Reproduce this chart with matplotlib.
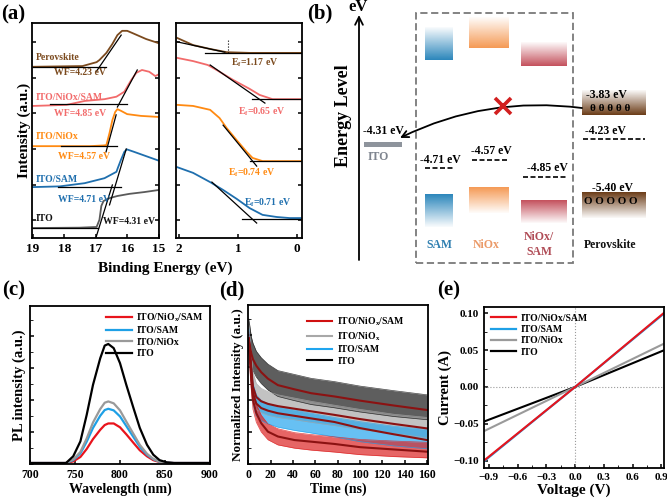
import numpy as np
import matplotlib
matplotlib.use('Agg')
import matplotlib.pyplot as plt
from matplotlib.colors import to_rgb
from matplotlib.patches import Rectangle, FancyArrowPatch
from matplotlib.ticker import MultipleLocator

W, H = 667, 498

# ---------------- (a) UPS cut-off region (binding energy in eV, intensity a.u.)
cut_names = ['ITO', 'ITO/SAM', 'ITO/NiOx', 'ITO/NiOx/SAM', 'Perovskite']
cut_colors = ['#5a5a5a', '#1f6fae', '#ff8a12', '#f26b6b', '#7b4a1e']
name_colors = ['#111111', '#1f6fae', '#ff8a12', '#f26b6b', '#7b4a1e']
work_function = [4.31, 4.71, 4.57, 4.85, 4.23]

ito_cut_e = [19.0, 17.52, 16.98, 16.89, 16.83, 16.76, 16.57, 16.32, 15.94, 15.47, 15.0]
ito_cut_i = [0.28, 0.29, 0.31, 0.51, 0.90, 1.04, 1.12, 1.18, 1.24, 1.29, 1.35]
sam_cut_e = [19.0, 18.15, 17.36, 16.73, 16.35, 16.31, 16.21, 16.10, 16.02, 15.79, 15.0]
sam_cut_i = [1.43, 1.45, 1.54, 1.68, 1.86, 1.96, 2.19, 2.42, 2.49, 2.42, 2.17]
niox_cut_e = [19.0, 17.20, 16.76, 16.67, 16.57, 16.48, 16.39, 16.32, 16.20, 16.01, 15.57, 15.0]
niox_cut_i = [2.58, 2.58, 2.60, 2.61, 2.95, 3.31, 3.54, 3.62, 3.57, 3.48, 3.43, 3.40]
nsam_cut_e = [19.0, 17.93, 17.36, 16.73, 16.35, 16.10, 15.88, 15.72, 15.54, 15.31, 15.12, 15.0]
nsam_cut_i = [3.71, 3.74, 3.85, 3.90, 3.97, 4.11, 4.44, 4.64, 4.72, 4.67, 4.55, 4.60]
pvk_cut_e = [19.0, 17.43, 16.98, 16.89, 16.67, 16.48, 16.32, 16.17, 16.01, 15.85, 15.41, 15.0]
pvk_cut_i = [4.81, 4.83, 4.94, 5.00, 5.20, 5.45, 5.70, 5.82, 5.82, 5.76, 5.59, 5.47]

# baselines and tangent lines used to read the WF
wf_base_from = [19.0, 18.2, 18.1, 18.46, 19.0]
wf_base_to = [16.95, 16.2, 16.32, 16.01, 16.67]
wf_base_level = [0.28, 1.44, 2.58, 3.76, 4.81]
wf_tan_e0 = [16.99, 16.57, 16.68, 16.32, 16.98]
wf_tan_i0 = [0.04, 0.93, 2.42, 3.68, 4.69]
wf_tan_e1 = [16.48, 16.04, 16.36, 15.69, 16.20]
wf_tan_i1 = [1.49, 2.50, 3.46, 4.72, 5.70]
name_pos_i = [0.56, 1.63, 2.84, 3.96, 5.08]
wf_pos_e = [15.94, 17.39, 17.39, 17.49, 17.52]
wf_pos_i = [0.45, 1.07, 2.30, 3.51, 4.66]

# ---------------- (a) valence band edge (perovskite, NiOx/SAM, NiOx, SAM)
vb_names = ['Perovskite', 'ITO/NiOx/SAM', 'ITO/NiOx', 'ITO/SAM']
vb_colors = ['#7b4a1e', '#f26b6b', '#ff8a12', '#1f6fae']
fermi_edge = [1.17, 0.65, 0.74, 0.71]
pvk_vb_e = [2.03, 1.76, 1.47, 1.19, 0.80, 0.12, -0.09]
pvk_vb_i = [5.62, 5.42, 5.31, 5.22, 5.20, 5.20, 5.20]
nsam_vb_e = [2.03, 1.76, 1.51, 1.36, 1.08, 0.80, 0.63, 0.41, 0.12, -0.09]
nsam_vb_i = [5.06, 4.97, 4.86, 4.72, 4.44, 4.19, 4.02, 3.90, 3.90, 3.90]
niox_vb_e = [2.03, 1.76, 1.47, 1.31, 1.19, 1.02, 0.85, 0.75, 0.58, 0.12, -0.09]
niox_vb_i = [3.74, 3.71, 3.60, 3.37, 3.09, 2.75, 2.42, 2.25, 2.16, 2.16, 2.16]
sam_vb_e = [2.03, 1.76, 1.47, 1.25, 1.02, 0.80, 0.58, 0.34, 0.12, -0.09]
sam_vb_i = [1.99, 1.83, 1.57, 1.35, 1.10, 0.84, 0.65, 0.59, 0.56, 0.56]
ef_tan_e0 = [2.03, 1.47, 1.25, 1.44]
ef_tan_i0 = [5.51, 4.86, 3.17, 1.57]
ef_tan_e1 = [1.22, 0.54, 0.68, 0.68]
ef_tan_i1 = [5.22, 3.79, 2.02, 0.42]
ef_base_from = [1.56, 0.76, 0.80, 0.93]
ef_base_level = [5.20, 3.90, 2.16, 0.53]
ef_pos_e = [0.71, 0.59, 0.76, 0.49]
ef_pos_i = [4.92, 3.54, 1.83, 0.98]

# ---------------- (b) energy levels (eV)
ito_level = -4.31
layer_names = ['SAM', 'NiOx', 'NiOx/\nSAM', 'Perovskite']
layer_wf = [-4.71, -4.57, -4.85, -4.23]
pvk_cbm, pvk_vbm = -3.83, -5.40
layer_colors = ['#2b86bb', '#f59a55', '#c4505c', '#6b3c17']
layer_text_colors = ['#2f7fb0', '#eb9a68', '#b04c56', '#111111']

# ---------------- (c) steady-state PL
pl_wl = [700, 740, 748, 756, 763, 770, 778, 783, 787, 793, 800, 807, 815, 822, 830, 837, 844, 852, 860, 900]
pl_ito = [0.03, 0.03, 0.24, 0.71, 1.54, 2.48, 3.31, 3.71, 3.76, 3.63, 3.16, 2.48, 1.75, 1.13, 0.60, 0.29, 0.12, 0.05, 0.03, 0.03]
pl_niox = [0.03, 0.03, 0.14, 0.38, 0.80, 1.30, 1.72, 1.92, 1.96, 1.90, 1.68, 1.33, 0.94, 0.60, 0.32, 0.16, 0.07, 0.04, 0.03, 0.03]
pl_sam = [0.03, 0.03, 0.12, 0.33, 0.70, 1.13, 1.51, 1.69, 1.73, 1.68, 1.49, 1.19, 0.84, 0.54, 0.29, 0.15, 0.07, 0.04, 0.03, 0.03]
pl_nsam = [0.03, 0.03, 0.08, 0.22, 0.47, 0.78, 1.07, 1.22, 1.27, 1.27, 1.15, 0.93, 0.66, 0.43, 0.24, 0.12, 0.06, 0.04, 0.03, 0.03]

# ---------------- (d) TRPL (band = spread of the raw counts, line = fit)
trpl_t = [0.5, 2.7, 4.2, 7.2, 11.6, 17.6, 26.5, 41.4, 56.3, 77, 100, 130, 160]
fit_ito = [3.85, 3.43, 3.25, 3.05, 2.85, 2.65, 2.45, 2.32, 2.20, 2.10, 1.97, 1.82, 1.68]
fit_niox = [3.9, 3.0, 2.4, 2.08, 1.95, 1.87, 1.80, 1.72, 1.64, 1.53, 1.40, 1.25, 1.11]
fit_sam = [3.9, 2.85, 2.2, 1.88, 1.74, 1.66, 1.58, 1.50, 1.42, 1.31, 1.12, 0.93, 0.75]
fit_nsam = [3.85, 2.6, 1.99, 1.58, 1.27, 1.01, 0.86, 0.75, 0.70, 0.63, 0.53, 0.46, 0.39]
raw_ito_hi = [4.5, 3.95, 3.75, 3.5, 3.3, 3.1, 2.9, 2.78, 2.66, 2.56, 2.42, 2.28, 2.15]
raw_ito_lo = [3.6, 3.05, 2.9, 2.7, 2.5, 2.3, 2.1, 1.97, 1.85, 1.75, 1.62, 1.48, 1.38]
raw_niox_hi = [4.3, 3.4, 2.85, 2.5, 2.35, 2.25, 2.15, 2.05, 1.95, 1.83, 1.70, 1.55, 1.45]
raw_niox_lo = [3.5, 2.6, 2.0, 1.7, 1.6, 1.52, 1.45, 1.38, 1.30, 1.20, 1.08, 0.95, 0.82]
raw_sam_hi = [4.2, 3.2, 2.5, 2.15, 1.98, 1.88, 1.78, 1.68, 1.58, 1.45, 1.32, 1.18, 1.08]
raw_sam_lo = [3.6, 2.5, 1.85, 1.5, 1.35, 1.25, 1.15, 1.05, 0.97, 0.85, 0.70, 0.57, 0.48]
raw_nsam_hi = [4.1, 2.9, 2.3, 1.85, 1.52, 1.25, 1.10, 0.98, 0.92, 0.85, 0.77, 0.72, 0.68]
raw_nsam_lo = [3.6, 2.3, 1.7, 1.3, 1.0, 0.76, 0.60, 0.50, 0.44, 0.38, 0.30, 0.24, 0.20]

# ---------------- (e) I-V
iv_v = [-0.95, 0.0, 0.93]
iv_nsam = [-0.100, 0.0, 0.101]
iv_sam = [-0.101, 0.0, 0.100]
iv_niox = [-0.060, 0.0, 0.059]
iv_ito = [-0.047, 0.0, 0.050]

plt.rcParams['font.family'] = ['Liberation Serif', 'DejaVu Serif']
plt.rcParams['font.weight'] = 'bold'
plt.rcParams['axes.labelweight'] = 'bold'
plt.rcParams['axes.linewidth'] = 1.3
plt.rcParams['xtick.direction'] = 'in'
plt.rcParams['ytick.direction'] = 'in'
plt.rcParams['xtick.major.width'] = 1.1
plt.rcParams['ytick.major.width'] = 1.1
plt.rcParams['mathtext.fontset'] = 'custom'
plt.rcParams['mathtext.rm'] = 'Liberation Serif:bold'
plt.rcParams['mathtext.it'] = 'Liberation Serif:italic:bold'
plt.rcParams['mathtext.bf'] = 'Liberation Serif:bold'


def px_box(x0, y0, x1, y1):
    # pixel box (top-left origin) -> figure fraction
    return [x0 / W, 1 - y1 / H, (x1 - x0) / W, (y1 - y0) / H]


fig = plt.figure(figsize=(W / 100, H / 100), dpi=100)

# ======================= (b) schematic, drawn first (underneath)
axb = fig.add_axes(px_box(280, 0, 667, 275))
axb.set_xlim(280, 667)
axb.set_ylim(-6.458, -1.949)


def grad_box(ax, x0, x1, y0, y1, color, color_at_bottom=True):
    rgb = to_rgb(color)
    img = np.zeros((64, 1, 4))
    img[..., :3] = rgb
    ramp = np.linspace(1.0, 0.03, 64)
    img[:, 0, 3] = ramp if color_at_bottom else ramp[::-1]
    ax.imshow(img, extent=[x0, x1, y0, y1], origin='lower', aspect='auto',
              interpolation='bilinear', zorder=2)


col_x0 = [425, 469, 521, 582]
col_x1 = [453, 509, 567, 646]
cb_top = [-2.392, -2.228, -2.638, -3.425]
cb_bot = [-2.933, -2.736, -3.031, pvk_cbm]
vb_top = [-5.146, -5.031, -5.228, -5.113]
vb_bot = [-5.671, -5.441, -5.605, -5.523]
for i in range(4):
    grad_box(axb, col_x0[i], col_x1[i], cb_bot[i], cb_top[i], layer_colors[i], True)
    grad_box(axb, col_x0[i], col_x1[i], vb_bot[i], vb_top[i], layer_colors[i], False)

dash_x0 = [425, 472, 523, 583]
dash_x1 = [453, 507, 567, 645]
text_x = [440, 491, 547, 605]
for i in range(4):
    axb.plot([dash_x0[i], dash_x1[i]], [layer_wf[i]] * 2, ls=(0, (3, 1.5)), color='k', lw=1.2)
    axb.text(text_x[i], layer_wf[i] + 0.04, '%.2f eV' % layer_wf[i], ha='center', va='bottom', fontsize=8.5)
    axb.text([439, 486, 539, 610][i], -5.96, layer_names[i], ha='center', va='center',
             fontsize=8.5, color=layer_text_colors[i], linespacing=1.3)

axb.add_patch(Rectangle((364, ito_level - 0.05), 38, 0.09, color='#8e949c', lw=0))
axb.text(383, ito_level + 0.11, '%.2f eV' % ito_level, ha='center', va='bottom', fontsize=8.5)
axb.text(378, ito_level - 0.21, 'ITO', ha='center', va='center', fontsize=8.5, color='#7f858f')
axb.text(606, -3.50, '%.2f eV' % pvk_cbm, ha='center', va='center', fontsize=8.5)
axb.text(610, -3.72, 'θ θ θ θ θ', ha='center', va='center', fontsize=8)
axb.text(612, -5.03, '%.2f eV' % pvk_vbm, ha='center', va='center', fontsize=8.5)
axb.text(611, -5.26, 'O O O O O', ha='center', va='center', fontsize=8)

axb.add_patch(Rectangle((416, -6.261), 157, 4.099, fill=False, ls=(0, (4, 2)),
                        lw=1.3, edgecolor='#7a7a7a', zorder=1))
axb.annotate('', xy=(359, -2.195), xytext=(359, -6.212),
             arrowprops=dict(arrowstyle='->', lw=1.3, color='k', mutation_scale=14,
                             shrinkA=0, shrinkB=0))
axb.text(358, -2.06, 'eV', ha='center', va='center', fontsize=12)
axb.text(343, -3.84, 'Energy Level', rotation=90, ha='center', va='center', fontsize=13)
axb.add_patch(FancyArrowPatch((582, -3.72), (400, -4.21), connectionstyle='arc3,rad=0.15',
                              arrowstyle='->', mutation_scale=12, lw=1.3, color='k',
                              shrinkA=0, shrinkB=0, zorder=4))
axb.plot(503, -3.69, marker='x', ms=12, mew=2.6, color='#d21f1f', zorder=5)
axb.set_axis_off()

# ======================= (a) left: secondary electron cut-off
ax1 = fig.add_axes(px_box(32, 23, 159, 238))
cut_e = [ito_cut_e, sam_cut_e, niox_cut_e, nsam_cut_e, pvk_cut_e]
cut_i = [ito_cut_i, sam_cut_i, niox_cut_i, nsam_cut_i, pvk_cut_i]
for k in range(5):
    ax1.plot(cut_e[k], cut_i[k], color=cut_colors[k], lw=1.3)
    ax1.plot([wf_base_from[k], wf_base_to[k]], [wf_base_level[k]] * 2, color='k', lw=0.9)
    ax1.plot([wf_tan_e0[k], wf_tan_e1[k]], [wf_tan_i0[k], wf_tan_i1[k]], color='k', lw=0.9)
    ax1.text(18.92, name_pos_i[k], cut_names[k], color=name_colors[k], fontsize=7,
             ha='left', va='center')
    ax1.text(wf_pos_e[k], wf_pos_i[k], 'WF=%.2f eV' % work_function[k], color=name_colors[k],
             fontsize=7, ha='center', va='center')
ax1.set_xlim(19.03, 15.0)
ax1.set_ylim(0, 6.04)
ax1.xaxis.set_major_locator(MultipleLocator(1))
ax1.set_yticks([0.5, 1.5, 2.5, 3.5, 4.5, 5.5])
ax1.tick_params(axis='y', labelleft=False, right=True, length=3)
ax1.tick_params(axis='x', labelsize=9.5, length=3)
ax1.set_ylabel('Intensity (a.u.)', fontsize=11, labelpad=1)

# ======================= (a) right: valence band edge
ax2 = fig.add_axes(px_box(176, 23, 302, 238))
vb_e = [pvk_vb_e, nsam_vb_e, niox_vb_e, sam_vb_e]
vb_i = [pvk_vb_i, nsam_vb_i, niox_vb_i, sam_vb_i]
for k in range(4):
    ax2.plot(vb_e[k], vb_i[k], color=vb_colors[k], lw=1.3)
    ax2.plot([ef_tan_e0[k], ef_tan_e1[k]], [ef_tan_i0[k], ef_tan_i1[k]], color='k', lw=0.9)
    ax2.plot([ef_base_from[k], -0.09], [ef_base_level[k]] * 2, color='k', lw=0.9)
    ax2.text(ef_pos_e[k], ef_pos_i[k], r'E$_\mathrm{f}$=%.2f eV' % fermi_edge[k],
             color=vb_colors[k], fontsize=7, ha='center', va='center')
ax2.plot([fermi_edge[0]] * 2, [pvk_vb_i[-1], 5.56], color='k', lw=0.8, ls=':')
ax2.set_xlim(2.05, -0.09)
ax2.set_ylim(0, 6.04)
ax2.set_xticks([2, 1, 0])
ax2.set_yticks([0.5, 1.5, 2.5, 3.5, 4.5, 5.5])
ax2.tick_params(axis='y', labelleft=False, right=True, length=3)
ax2.tick_params(axis='x', labelsize=9.5, length=3)
fig.text(165 / W, 1 - 268 / H, 'Binding Energy (eV)', ha='center', va='center', fontsize=11)

# ======================= (c) PL
axc = fig.add_axes(px_box(30, 305.7, 210, 464.3))
axc.plot(pl_wl, pl_nsam, color='#e8141c', lw=1.6, label='ITO/NiO$_\\mathrm{x}$/SAM')
axc.plot(pl_wl, pl_sam, color='#1ea0e6', lw=1.6, label='ITO/SAM')
axc.plot(pl_wl, pl_niox, color='#9a9a9a', lw=1.6, label='ITO/NiOx')
axc.plot(pl_wl, pl_ito, color='k', lw=1.6, label='ITO')
axc.set_xlim(700, 900)
axc.set_ylim(-0.01, 4.96)
axc.xaxis.set_major_locator(MultipleLocator(50))
axc.yaxis.set_major_locator(MultipleLocator(1))
axc.yaxis.set_minor_locator(MultipleLocator(0.5))
axc.set_yticks([1, 2, 3, 4])
axc.tick_params(axis='y', which='both', labelleft=False, length=3)
axc.tick_params(axis='y', which='minor', length=2)
axc.tick_params(axis='x', labelsize=8.5, length=3)
axc.set_xlabel('Wavelength (nm)', fontsize=10, labelpad=1)
axc.set_ylabel('PL intensity (a.u.)', fontsize=10.5, labelpad=3)
axc.legend(loc='upper right', frameon=False, fontsize=7, handlelength=2.6,
           labelspacing=0.25, borderaxespad=0.2, handletextpad=0.5)

# ======================= (d) TRPL
axd = fig.add_axes(px_box(247.7, 305.0, 428.3, 464.3))
bands = [(raw_ito_lo, raw_ito_hi, '#1a1a1a', 0.7), (raw_niox_lo, raw_niox_hi, '#a8a8a8', 0.7),
         (raw_sam_lo, raw_sam_hi, '#27a6ee', 0.7), (raw_nsam_lo, raw_nsam_hi, '#dc2424', 0.7)]
for lo, hi, c, a in bands:
    axd.fill_between(trpl_t, lo, hi, color=c, alpha=a, lw=0)
    axd.plot(trpl_t, lo, color=c, lw=0.5, alpha=0.8)
    axd.plot(trpl_t, hi, color=c, lw=0.5, alpha=0.8)
for fit in [fit_ito, fit_niox, fit_sam, fit_nsam]:
    axd.plot(trpl_t, fit, color='#8b1212', lw=1.5)
for lab, c in [('ITO/NiO$_\\mathrm{x}$/SAM', '#d01010'), ('ITO/NiO$_\\mathrm{x}$', '#a8a8a8'),
               ('ITO/SAM', '#1fa5ef'), ('ITO', 'k')]:
    axd.plot([], [], color=c, lw=1.5, label=lab)
axd.set_xlim(-0.5, 161)
axd.set_ylim(0, 4.93)
axd.xaxis.set_major_locator(MultipleLocator(20))
axd.set_yticks([1, 2, 3, 4])
axd.yaxis.set_minor_locator(MultipleLocator(0.5))
axd.tick_params(axis='y', which='both', labelleft=False, length=3)
axd.tick_params(axis='y', which='minor', length=2)
axd.tick_params(axis='x', labelsize=8.5, length=3)
axd.set_xlabel('Time (ns)', fontsize=10, labelpad=1)
axd.set_ylabel('Normalized Intensity (a.u.)', fontsize=9.5, labelpad=3)
axd.legend(loc='upper right', bbox_to_anchor=(0.92, 0.99), frameon=False, fontsize=7,
           handlelength=2.6, labelspacing=0.25, handletextpad=0.5)

# ======================= (e) I-V
axe = fig.add_axes(px_box(484, 306.7, 664.3, 468.3))
axe.axhline(0, color='#9a9a9a', lw=0.8, ls=':')
axe.axvline(0, color='#9a9a9a', lw=0.8, ls=':')
axe.plot(iv_v, iv_ito, color='k', lw=1.5)
axe.plot(iv_v, iv_niox, color='#9a9a9a', lw=1.5)
axe.plot(iv_v, iv_sam, color='#1ea0e6', lw=1.5)
axe.plot(iv_v, iv_nsam, color='#e8141c', lw=1.5)
for lab, c in [('ITO/NiOx/SAM', '#e8141c'), ('ITO/SAM', '#1ea0e6'),
               ('ITO/NiOx', '#9a9a9a'), ('ITO', 'k')]:
    axe.plot([], [], color=c, lw=1.6, label=lab)
axe.set_xlim(-0.95, 0.93)
axe.set_ylim(-0.1105, 0.109)
axe.set_xticks([-0.9, -0.6, -0.3, 0.0, 0.3, 0.6, 0.9])
axe.set_yticks([-0.10, -0.05, 0.0, 0.05, 0.10])
axe.xaxis.set_minor_locator(MultipleLocator(0.15))
axe.yaxis.set_minor_locator(MultipleLocator(0.025))
axe.xaxis.set_major_formatter('{x:.1f}')
axe.yaxis.set_major_formatter('{x:.2f}')
axe.tick_params(which='both', labelsize=8, length=3)
axe.tick_params(which='minor', length=2)
axe.set_xlabel('Voltage (V)', fontsize=11, labelpad=1)
axe.set_ylabel('Current (A)', fontsize=10.5, labelpad=1)
axe.legend(loc='upper left', frameon=False, fontsize=7, handlelength=2.6,
           labelspacing=0.25, borderaxespad=0.3, handletextpad=0.5)

# panel letters
for lab, x, y in [('(a)', 1, 4), ('(b)', 307, 3), ('(c)', 2, 280), ('(d)', 219, 280), ('(e)', 437, 280)]:
    fig.text(x / W, 1 - y / H, lab, ha='left', va='top', fontsize=15)

fig.savefig('out.png', dpi=100)
